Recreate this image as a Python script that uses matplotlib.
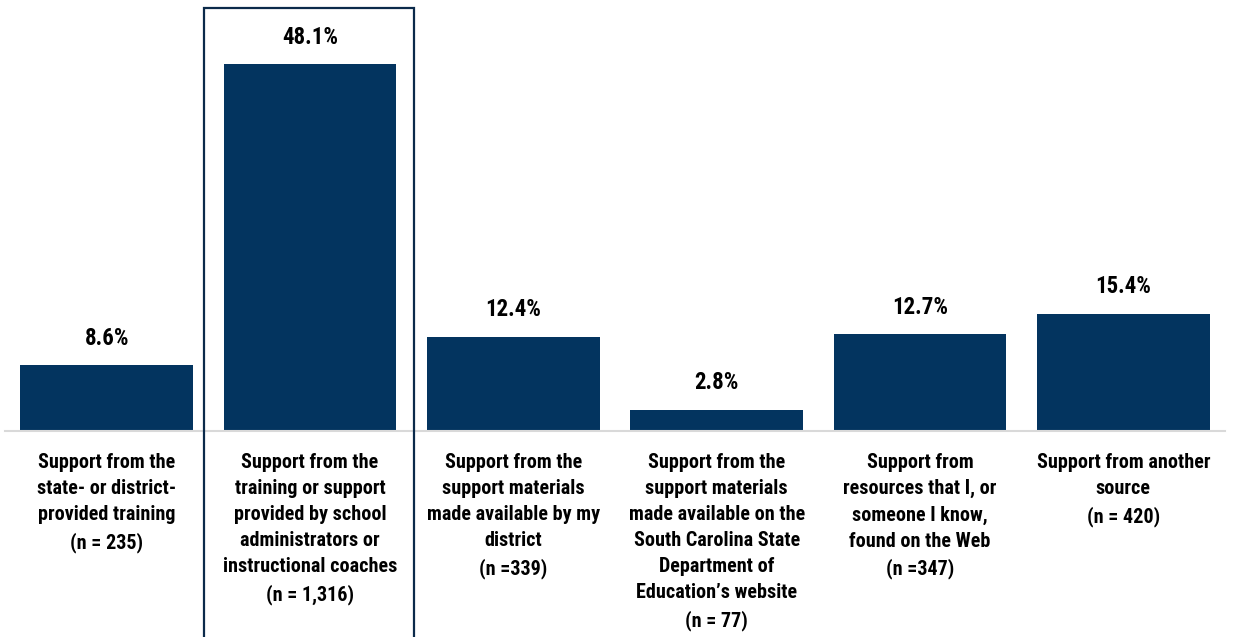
import matplotlib
matplotlib.use("Agg")
import matplotlib.pyplot as plt
from matplotlib.patches import Rectangle
from matplotlib.transforms import blended_transform_factory

categories = [
    "Support from the\nstate- or district-\nprovided training\n(n = 235)",
    "Support from the\ntraining or support\nprovided by school\nadministrators or\ninstructional coaches\n(n = 1,316)",
    "Support from the\nsupport materials\nmade available by my\ndistrict\n(n =339)",
    "Support from the\nsupport materials\nmade available on the\nSouth Carolina State\nDepartment of\nEducation\u2019s website\n(n = 77)",
    "Support from\nresources that I, or\nsomeone I know,\nfound on the Web\n(n =347)",
    "Support from another\nsource\n(n = 420)",
]
values = [8.6, 48.1, 12.4, 2.8, 12.7, 15.4]
highlight = 1

family = ["Roboto Condensed", "DejaVu Sans"]
navy = "#03345f"
W, H = 1233, 637
fig = plt.figure(figsize=(W / 100, H / 100), dpi=100)
ax = fig.add_axes([5 / W, (H - 431) / H, 1220 / W, 431 / H])

x = list(range(len(values)))
ax.bar(x, values, width=0.85, color=navy, zorder=2)
ax.set_xlim(-0.5, len(values) - 0.5)
ax.set_ylim(0, 431 / 7.62)
for s in ["top", "right", "left"]:
    ax.spines[s].set_visible(False)
ax.spines["bottom"].set_color("#d9d9d9")
ax.spines["bottom"].set_linewidth(1.5)
ax.set_xticks([])
ax.set_yticks([])

for xi, v in zip(x, values):
    ax.annotate(f"{v:.1f}%", (xi, v), xytext=(0, 11), textcoords="offset points",
                ha="center", va="bottom", fontsize=16.5, fontweight="bold",
                family=family, color="black")

for xi, lab in zip(x, categories):
    ax.annotate(lab, (xi, 0), xytext=(0, -16), textcoords="offset points",
                ha="center", va="top", fontsize=14.5, fontweight="bold",
                family=family, color="black", linespacing=1.47,
                annotation_clip=False)

# frame around the highlighted category
tr = blended_transform_factory(ax.transData, fig.transFigure)
ax.add_patch(Rectangle((highlight - 0.52, -0.05), 1.03, 1.0 - 8 / H + 0.05,
                       transform=tr, fill=False, edgecolor="#0b2a4a",
                       linewidth=1.6, clip_on=False, zorder=3))

fig.savefig("out.png", dpi=100)
